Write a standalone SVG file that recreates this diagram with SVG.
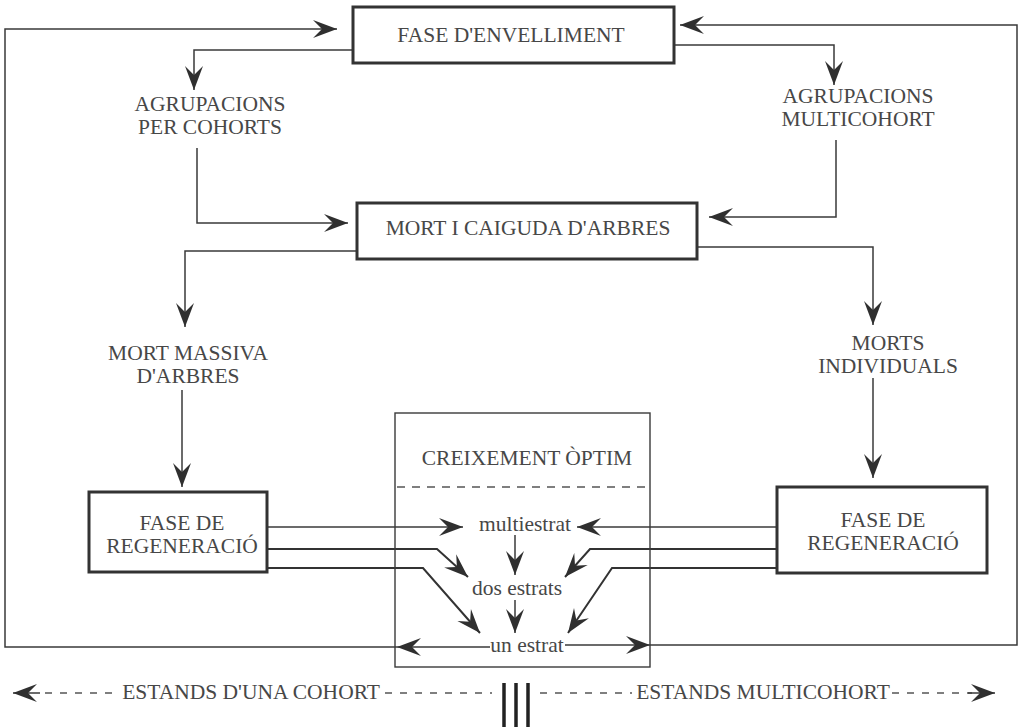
<svg xmlns="http://www.w3.org/2000/svg" width="1021" height="727" viewBox="0 0 1021 727">
<defs>
<marker id="ah" markerUnits="userSpaceOnUse" markerWidth="30" markerHeight="24" viewBox="-26 -12 30 24" refX="0" refY="0" orient="auto">
<path d="M0,0 L-24,-9 L-15,0 L-24,9 Z" fill="#2f2f2f"/>
</marker>
<style>
text{font-family:"Liberation Serif","Times New Roman",serif;font-size:21.5px;fill:#474747;text-anchor:middle}
.box{fill:#fff;stroke:#333;stroke-width:3}
.thin{fill:none;stroke:#3a3a3a;stroke-width:1.4}
.c{fill:none;stroke:#3a3a3a;stroke-width:1.5}
.d{fill:none;stroke:#333;stroke-width:2}
.a{marker-end:url(#ah)}
.dash{fill:none;stroke:#555;stroke-width:1.3;stroke-dasharray:7 8}
.bar{stroke:#222;stroke-width:3.5}
</style>
</defs>
<rect width="1021" height="727" fill="#fff"/>

<g id="connectors">
<path class="c a" d="M490,647 L397,647"/>
<path class="c a" d="M397,647 L5,647 L5,29 L337,29"/>
<path class="c a" d="M565,645 L650,645"/>
<path class="c a" d="M650,645 L1017,645 L1017,25 L680,25"/>
<path class="c a" d="M353,50 L194,50 L194,90"/>
<path class="c a" d="M675,45 L834,45 L834,85"/>
<path class="c a" d="M197,148 L197,223 L348,223"/>
<path class="c a" d="M836,140 L836,217 L709,217"/>
<path class="c a" d="M357,251 L185,251 L185,327"/>
<path class="c a" d="M697,247 L873,247 L873,325"/>
<path class="c a" d="M182,390 L182,487"/>
<path class="c a" d="M873,378 L873,478"/>
<path class="c a" d="M267,527 L463,527"/>
<path class="d a" d="M267,549 L437,549 L468,577"/>
<path class="d a" d="M267,568 L423,568 L480,633"/>
<path class="c a" d="M777,527 L577,527"/>
<path class="d a" d="M777,549 L590,549 L565,577"/>
<path class="d a" d="M777,568 L612,568 L568,633"/>
<path class="c a" d="M515,535 L515,575"/>
<path class="c a" d="M515,600 L515,633"/>
</g>

<g id="n-envelliment">
<rect class="box" x="353" y="7" width="321" height="56"/>
<text x="511" y="42">FASE D'ENVELLIMENT</text>
</g>
<g id="n-agrup-cohorts">
<text x="210" y="111">AGRUPACIONS</text>
<text x="210" y="134">PER COHORTS</text>
</g>
<g id="n-agrup-multi">
<text x="858" y="103">AGRUPACIONS</text>
<text x="858" y="126">MULTICOHORT</text>
</g>
<g id="n-mort">
<rect class="box" x="357" y="203" width="340" height="56"/>
<text x="528" y="235">MORT I CAIGUDA D'ARBRES</text>
</g>
<g id="n-massiva">
<text x="188" y="360">MORT MASSIVA</text>
<text x="188" y="383">D'ARBRES</text>
</g>
<g id="n-individuals">
<text x="888" y="350">MORTS</text>
<text x="888" y="373">INDIVIDUALS</text>
</g>
<g id="n-regen-left">
<rect class="box" x="89" y="492" width="178" height="80"/>
<text x="182" y="530">FASE DE</text>
<text x="182" y="553">REGENERACIÓ</text>
</g>
<g id="n-regen-right">
<rect class="box" x="777" y="487" width="210" height="86"/>
<text x="883" y="527">FASE DE</text>
<text x="883" y="550">REGENERACIÓ</text>
</g>
<g id="n-creixement">
<rect class="thin" x="395" y="413" width="255" height="254"/>
<line x1="397" y1="487" x2="648" y2="487" stroke="#555" stroke-width="1.3" stroke-dasharray="8 7"/>
<text x="527" y="465">CREIXEMENT ÒPTIM</text>
</g>
<g id="n-multiestrat"><text x="525" y="531">multiestrat</text></g>
<g id="n-dos"><text x="517" y="595">dos estrats</text></g>
<g id="n-un"><text x="527" y="652">un estrat</text></g>

<g id="legend">
<path class="dash" d="M45,693 L118,693"/>
<path class="c a" d="M40,693 L13,693"/>
<text x="251" y="699">ESTANDS D'UNA COHORT</text>
<path class="dash" d="M385,693 L492,693"/>
<line class="bar" x1="504" y1="683" x2="504" y2="727"/>
<line class="bar" x1="516" y1="683" x2="516" y2="727"/>
<line class="bar" x1="528" y1="683" x2="528" y2="727"/>
<path class="dash" d="M540,693 L632,693"/>
<text x="763" y="699">ESTANDS MULTICOHORT</text>
<path class="dash" d="M892,693 L972,693"/>
<path class="c a" d="M968,693 L995,693"/>
</g>
</svg>
